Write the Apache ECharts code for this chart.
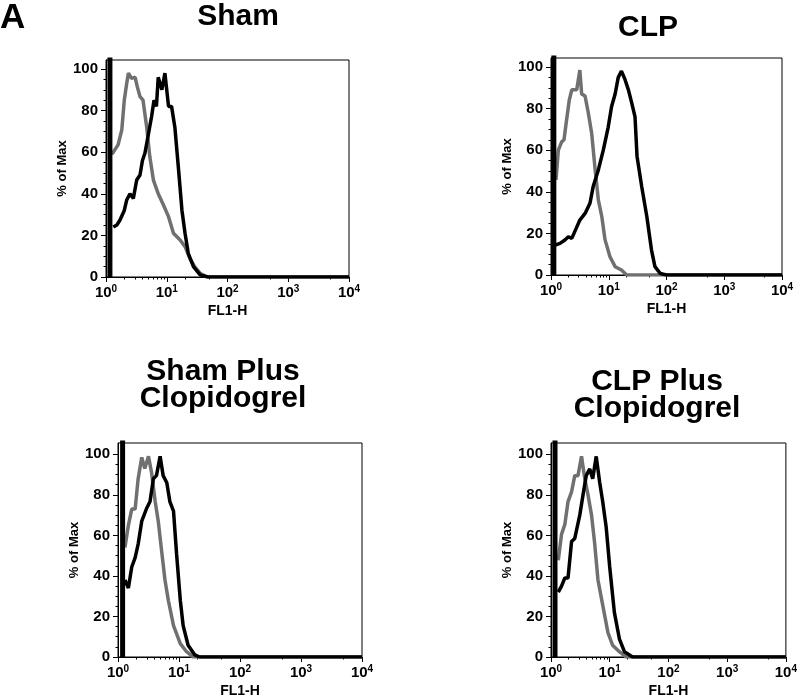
<!DOCTYPE html>
<html>
<head>
<meta charset="utf-8">
<script src="https://cdn.jsdelivr.net/npm/echarts@6/dist/echarts.min.js"></script>
<style>
html,body{margin:0;padding:0;background:#fff;}
#chart{width:800px;height:699px;}
</style>
</head>
<body>
<div id="chart"></div>
<script>
// ---- Data (FL1-H value, % of Max) ----
const panelTitles = ['Sham', 'CLP', 'Sham Plus\nClopidogrel', 'CLP Plus\nClopidogrel'];
const yTickValues = [0, 20, 40, 60, 80, 100];
const yMinorTickValues = [5, 10, 15, 25, 30, 35, 45, 50, 55, 65, 70, 75, 85, 90, 95];
const xMinorTickValues = [2, 3, 4, 5, 6, 7, 8, 9, 20, 50, 500, 5000];

// first-bin (off-scale low) pile-up channel for each panel
const firstBinX = [1.16, 1.12, 1.19, 1.17];
const firstBinY = 110;

const shamGray = [[1.24,59],[1.32,60],[1.58,63.5],[1.82,70.7],[2.0,85],[2.19,93],[2.34,98],[2.63,95.5],[3.02,96],[3.27,91.5],[3.63,86.7],[4.07,85],[4.68,72],[5.25,58],[6.03,46.6],[7.24,40],[8.71,35],[10.7,29],[12.9,21],[16.6,17.8],[20.0,14.6],[24.0,9],[28.8,5],[35.5,1.8],[45.7,0],[10000,0]];
const shamBlack = [[1.32,24],[1.51,25],[1.70,27.4],[2.0,32],[2.19,37],[2.48,40],[2.82,37.8],[3.2,46.6],[3.63,49],[3.98,56],[4.37,59.5],[5.01,69],[5.62,77],[6.17,85],[6.76,82],[7.24,96],[8.32,90],[9.33,98],[10.7,82],[12.0,82],[13.6,72],[15.5,53],[17.8,32],[20.0,21],[22.6,11.4],[27.5,5],[35.5,1],[47.9,0],[10000,0]];

const clpGray = [[1.22,45.7],[1.34,60],[1.53,64],[1.68,65],[1.86,74.5],[2.07,84],[2.29,89],[2.79,89],[3.16,98.5],[3.39,87],[3.89,86],[4.42,78],[5.07,68],[5.75,52],[6.61,36],[7.59,28],[8.61,17],[10.5,8.8],[12.9,4],[16.6,2.4],[20.4,0],[10000,0]];
const clpBlack = [[1.175,14.4],[1.43,15.2],[1.74,16.8],[2.0,18.4],[2.29,17.6],[2.79,23],[3.16,26.4],[3.89,29.6],[4.73,34.5],[5.37,42.5],[6.61,50.5],[8.04,60],[9.77,71],[11.2,81],[12.9,87],[14.6,95],[16.6,98],[19.1,94],[21.9,89],[25.1,82.5],[28.5,76],[30.9,57],[37.2,42.5],[45.7,28],[55,12],[63.1,4],[77.6,0.8],[100,0],[10000,0]];

const shamClopGray = [[1.30,54],[1.48,65],[1.68,73],[1.91,73],[2.14,88],[2.45,98.5],[2.75,93],[3.16,99],[3.55,91],[4.07,76.7],[4.57,67],[5.25,51],[5.89,38],[6.68,28],[8.13,15.5],[10.5,6.6],[13.3,2.6],[17.2,0],[10000,0]];
const shamClopBlack = [[1.30,38],[1.48,34],[1.68,44.4],[1.91,49],[2.14,55.7],[2.45,67],[2.95,73.4],[3.35,76.7],[3.8,88],[4.27,89.5],[4.9,99],[5.5,89.5],[6.31,86],[7.08,76.7],[8.13,72],[9.12,51],[10.5,28],[11.7,15.5],[14.1,5.8],[18.2,1],[21.9,0],[10000,0]];

const clpClopGray = [[1.33,47.7],[1.51,60.5],[1.72,65.4],[1.95,76.7],[2.24,81.5],[2.54,89.5],[2.88,89.5],[3.31,99],[3.76,88],[4.27,80],[4.9,70],[5.5,57],[6.31,38],[7.67,25],[9.33,12],[11.2,5.8],[14.6,2.6],[19.1,0],[10000,0]];
const clpClopBlack = [[1.33,32],[1.51,35],[1.72,39],[1.95,39],[2.24,57],[2.54,58.5],[3.09,70],[3.51,80],[3.98,89.5],[4.57,92.8],[5.13,88],[5.89,99],[6.76,86],[7.59,76.7],[8.71,64],[10,44.4],[12.0,22],[14.6,9],[17.8,2.6],[24.5,0],[10000,0]];

const grayCurves = [shamGray, clpGray, shamClopGray, clpClopGray];
const blackCurves = [shamBlack, clpBlack, shamClopBlack, clpClopBlack];

// ---- Layout ----
const FONT = '"Liberation Sans", Arial, Helvetica, sans-serif';
const layout = [
  {left:106, top:60,  width:243, height:217, ymax:104.3, tx:238, ty:17},
  {left:551, top:58,  width:231, height:217, ymax:104.3, tx:648, ty:28},
  {left:118, top:443, width:244, height:219, ymax:105.6, tx:223, ty:385},
  {left:551, top:443, width:237, height:219, ymax:105.6, tx:657, ty:395}
];
const GRAY = '#707070';

const grids = [], xAxes = [], yAxes = [], series = [], graphics = [];

layout.forEach((L, i) => {
  grids.push({left:L.left, top:L.top, width:L.width, height:L.height, show:true,
    borderColor:'#000', borderWidth:1, backgroundColor:'transparent', containLabel:false});

  xAxes.push({
    gridIndex:i, type:'log', logBase:10, min:1, max:10000, splitNumber:4,
    position:'bottom',
    axisLine:{show:true, onZero:false, lineStyle:{color:'#000', width:1}},
    axisTick:{show:true, length:5, lineStyle:{color:'#000', width:1}},
    axisLabel:{
      margin:7, color:'#000',
      formatter: v => '{b|10}{s|' + Math.round(Math.log10(v)) + '}',
      rich:{
        b:{fontFamily:FONT, fontWeight:'bold', fontSize:15, color:'#000'},
        s:{fontFamily:FONT, fontWeight:'bold', fontSize:10, color:'#000', padding:[0,0,7,0]}
      }
    },
    splitLine:{show:false},
    name:'FL1-H', nameLocation:'middle', nameGap:27,
    nameTextStyle:{fontFamily:FONT, fontWeight:'bold', fontSize:14, color:'#000'}
  });
  xAxes.push({
    gridIndex:i, type:'log', logBase:10, min:1, max:10000, position:'bottom',
    axisLine:{show:false},
    axisTick:{show:true, length:2.5, customValues:xMinorTickValues, lineStyle:{color:'#000', width:1}},
    axisLabel:{show:false}, splitLine:{show:false}
  });

  yAxes.push({
    gridIndex:i, type:'value', min:0, max:L.ymax, position:'left',
    axisLine:{show:true, onZero:false, lineStyle:{color:'#000', width:1}},
    axisTick:{show:true, length:5, customValues:yTickValues, lineStyle:{color:'#000', width:1}},
    axisLabel:{customValues:yTickValues, margin:8, color:'#000', fontFamily:FONT, fontWeight:'bold', fontSize:15},
    splitLine:{show:false},
    name:'% of Max', nameLocation:'middle', nameGap:37,
    nameTextStyle:{fontFamily:FONT, fontWeight:'bold', fontSize:13, color:'#000'}
  });
  yAxes.push({
    gridIndex:i, type:'value', min:0, max:L.ymax, position:'left',
    axisLine:{show:false},
    axisTick:{show:true, length:2.5, customValues:yMinorTickValues, lineStyle:{color:'#000', width:1}},
    axisLabel:{show:false}, splitLine:{show:false}
  });

  const xi = i * 2, yi = i * 2;
  series.push({
    type:'line', xAxisIndex:xi, yAxisIndex:yi, data:grayCurves[i], showSymbol:false, symbol:'none',
    lineStyle:{color:GRAY, width:3.5}, itemStyle:{color:GRAY}, z:2, animation:false
  });
  series.push({
    type:'line', xAxisIndex:xi, yAxisIndex:yi,
    data:[[firstBinX[i], 0], [firstBinX[i], firstBinY]], showSymbol:false, symbol:'none',
    lineStyle:{color:'#000', width:5}, itemStyle:{color:'#000'}, z:3, animation:false
  });
  series.push({
    type:'line', xAxisIndex:xi, yAxisIndex:yi, data:blackCurves[i], showSymbol:false, symbol:'none',
    lineStyle:{color:'#000', width:3.5}, itemStyle:{color:'#000'}, z:4, animation:false
  });

  graphics.push({
    type:'text', x:L.tx, y:L.ty,
    style:{text:panelTitles[i], font:'bold 30px ' + FONT, fill:'#000',
      textAlign:'center', textVerticalAlign:'middle', lineHeight:27}
  });
});

graphics.push({type:'text', x:0, y:18,
  style:{text:'A', font:'bold 35px ' + FONT, fill:'#000', textAlign:'left', textVerticalAlign:'middle'}});

const chart = echarts.init(document.getElementById('chart'), null, {renderer:'canvas'});
chart.setOption({
  backgroundColor:'#fff',
  animation:false,
  grid:grids, xAxis:xAxes, yAxis:yAxes, series:series, graphic:graphics
});
</script>
</body>
</html>
